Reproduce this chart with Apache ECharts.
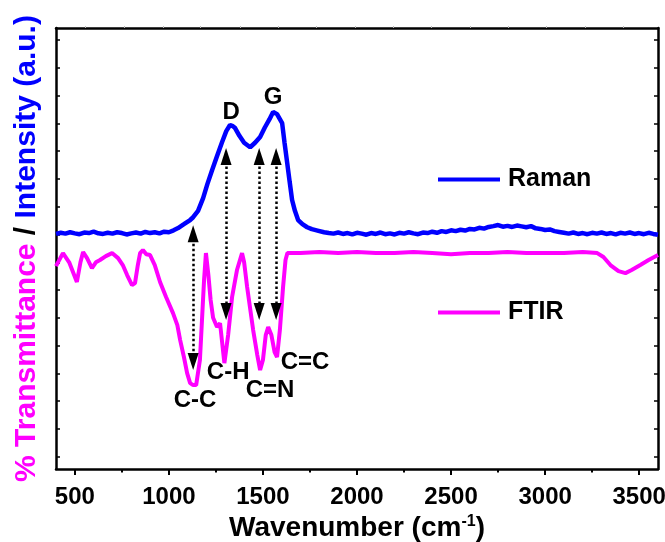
<!DOCTYPE html>
<html>
<head>
<meta charset="utf-8">
<script src="https://cdn.jsdelivr.net/npm/echarts@6/dist/echarts.min.js"></script>
<style>
html,body{margin:0;padding:0;background:#fff;}
#chart{width:665px;height:542px;}
</style>
</head>
<body>
<div id="chart"></div>
<script>
// ---- tick labels ----
const wnTicks = [500, 1000, 1500, 2000, 2500, 3000, 3500];
const wnMinorTicks = [750, 1250, 1750, 2250, 2750, 3250];
const topTicks = [554, 762, 969, 1166, 1379, 1581, 1783, 1990, 2193, 2395, 2602, 2804, 3006, 3214, 3416];
const yTicks = [0, 1, 2, 3, 4, 5, 6, 7, 8, 9, 10, 11, 12, 13, 14, 15];

// ---- Raman (a.u.) ----
const ramanWn = [
  400, 425, 450, 475, 500, 525, 550, 575, 600, 625, 650, 675, 700, 725, 750, 775, 800, 825, 850, 875, 900, 925, 950, 975, 1000, 1025,
  1049, 1080, 1113, 1129, 1155, 1182, 1205, 1230, 1258, 1283, 1305, 1325, 1340, 1352, 1375, 1400, 1432, 1458, 1485, 1510, 1535, 1554,
  1575, 1602, 1615, 1629, 1642, 1655, 1670, 1687, 1710, 1735, 1760, 1790, 1825, 1850,
  1875, 1900, 1925, 1950, 1975, 2000, 2025, 2050, 2075, 2100, 2125, 2150, 2175, 2200, 2225, 2250, 2275, 2300, 2325, 2350,
  2375, 2400, 2425, 2450, 2475, 2500, 2525, 2550, 2575, 2600, 2625, 2650, 2675, 2700, 2725, 2750, 2775, 2800, 2825, 2850,
  2875, 2900, 2925, 2950, 2975, 3000, 3025, 3050, 3075, 3100, 3125, 3150, 3175, 3200, 3225, 3250, 3275, 3300, 3325, 3350,
  3375, 3400, 3425, 3450, 3475, 3500, 3525, 3550, 3575, 3600
];
const ramanI = [
  8.02, 8.06, 8.03, 8.08, 8.04, 8.01, 8.07, 8.05, 8.10, 8.04, 8.02, 8.06, 8.03, 8.08, 8.05, 8.00, 8.04, 8.07, 8.03, 8.09, 8.05, 8.08, 8.04, 8.10, 8.08, 8.15,
  8.23, 8.37, 8.52, 8.62, 8.85, 9.31, 9.82, 10.32, 10.86, 11.33, 11.72, 11.94, 11.90, 11.83, 11.55, 11.30, 11.14, 11.30, 11.51, 11.85, 12.15, 12.41,
  12.33, 12.01, 11.29, 10.57, 9.90, 9.24, 8.85, 8.52, 8.37, 8.26, 8.19, 8.14, 8.08, 8.05,
  8.03, 8.07, 8.02, 8.05, 8.00, 8.06, 8.03, 7.99, 8.05, 8.02, 8.07, 8.01, 8.04, 8.00, 8.06, 8.03, 8.08, 8.04, 8.01, 8.07,
  8.05, 8.10, 8.06, 8.12, 8.09, 8.15, 8.12, 8.17, 8.14, 8.20, 8.18, 8.24, 8.21, 8.27, 8.30, 8.34, 8.28, 8.31, 8.27, 8.32,
  8.29, 8.26, 8.30, 8.22, 8.20, 8.16, 8.18, 8.12, 8.09, 8.06, 8.03, 8.07, 8.02, 8.05, 8.01, 8.06, 8.03, 8.07, 8.02, 8.05,
  8.00, 8.06, 8.03, 8.07, 8.02, 8.05, 8.01, 8.06, 8.02, 7.99
];

// ---- FTIR (% transmittance, a.u.) ----
const ftirWn = [
  400, 405, 437, 470, 511, 530, 544, 565, 591, 612, 634, 665, 698, 730, 755, 778, 804, 820, 835, 847,
  862, 880, 900, 925, 953, 985, 1022, 1045, 1060, 1080, 1097, 1113, 1129, 1145, 1155, 1165, 1176, 1187, 1197, 1210,
  1222, 1235, 1256, 1272, 1295, 1305, 1315, 1336, 1362, 1389, 1400, 1416, 1448, 1470, 1485, 1500, 1515, 1528, 1545, 1562,
  1575, 1590, 1607, 1620, 1630, 1700, 1800, 1900, 2000, 2100, 2200, 2300, 2400, 2500, 2600, 2700, 2800, 2900, 3000, 3100,
  3200, 3277, 3310, 3347, 3390, 3427, 3460, 3506, 3550, 3600
];
const ftirT = [
  6.86, 6.86, 7.33, 7.00, 6.29, 7.00, 7.37, 7.15, 6.79, 7.00, 7.08, 7.22, 7.33, 7.15, 6.90, 6.54, 6.18, 6.25, 6.90, 7.33,
  7.44, 7.29, 7.26, 6.90, 6.29, 5.75, 5.17, 4.74, 4.20, 3.59, 3.01, 2.65, 2.58, 2.58, 2.65, 3.48, 4.92, 6.36, 7.33, 6.54,
  5.64, 5.00, 4.67, 4.81, 3.37, 3.40, 4.38, 5.75, 6.72, 7.33, 7.00, 6.11, 4.56, 3.66, 3.12, 3.48, 4.38, 4.67, 4.38, 3.77,
  3.59, 4.56, 6.11, 7.08, 7.33, 7.33, 7.37, 7.33, 7.37, 7.33, 7.33, 7.37, 7.33, 7.29, 7.33, 7.33, 7.37, 7.33, 7.33, 7.33,
  7.37, 7.33, 7.19, 6.90, 6.68, 6.61, 6.72, 6.90, 7.08, 7.26
];

// ---- double-headed arrows (wavenumber, upper end, lower end) ----
const arrowWn = [1129, 1304, 1480, 1570];
const arrowTop = [8.03, 10.81, 10.81, 10.81];
const arrowBottom = [3.43, 5.23, 5.23, 5.23];

// ---- band labels ----
const bandText = ['D', 'G', 'C-C', 'C-H', 'C=N', 'C=C'];
const bandWn = [1331, 1554, 1139, 1315, 1538, 1724];
const bandY = [12.41, 12.95, 2.04, 3.05, 2.40, 3.41];

const FONT = "'Liberation Sans', Arial, Helvetica, sans-serif";
const X_MIN = 400, X_MAX = 3600, Y_MIN = -0.44, Y_MAX = 15.43;

const zip = (a, b) => a.map((v, i) => [v, b[i]]);
const frameLine = { show: true, onZero: false, lineStyle: { color: '#000', width: 2.5 } };

const chart = echarts.init(document.getElementById('chart'), null, { renderer: 'canvas' });
const option = {
  animation: false,
  backgroundColor: '#fff',
  grid: { left: 56, top: 28, right: 7, bottom: 73, containLabel: false, outerBoundsMode: 'none' },
  legend: [
    {
      data: ['Raman'], left: 433, top: 162, icon: 'rect', itemWidth: 62, itemHeight: 4,
      selectedMode: false,
      textStyle: { fontSize: 25, fontWeight: 'bold', color: '#000', fontFamily: FONT, padding: [0, 0, 0, 3] }
    },
    {
      data: ['FTIR'], left: 433, top: 295, icon: 'rect', itemWidth: 62, itemHeight: 4,
      selectedMode: false,
      textStyle: { fontSize: 25, fontWeight: 'bold', color: '#000', fontFamily: FONT, padding: [0, 0, 0, 3] }
    }
  ],
  xAxis: [
    {
      type: 'value', position: 'bottom', min: X_MIN, max: X_MAX,
      axisLine: frameLine,
      axisTick: { show: true, inside: false, length: 6, customValues: wnTicks, lineStyle: { color: '#000', width: 2 } },
      axisLabel: {
        customValues: wnTicks, formatter: v => String(v),
        fontSize: 24, fontWeight: 'bold', color: '#000', fontFamily: FONT, margin: 16
      },
      splitLine: { show: false },
      name: '{a|Wavenumber (cm}{s|-1}{a|)}',
      nameLocation: 'middle', nameGap: 45,
      nameTextStyle: {
        fontSize: 28, fontWeight: 'bold', color: '#000', fontFamily: FONT,
        rich: {
          a: { fontSize: 28, fontWeight: 'bold', color: '#000', fontFamily: FONT },
          s: { fontSize: 16, fontWeight: 'bold', color: '#000', fontFamily: FONT, verticalAlign: 'top' }
        }
      }
    },
    {
      type: 'value', position: 'bottom', min: X_MIN, max: X_MAX,
      axisLine: { show: false, onZero: false },
      axisTick: { show: true, inside: false, length: 3.5, customValues: wnMinorTicks, lineStyle: { color: '#000', width: 2 } },
      axisLabel: { show: false },
      splitLine: { show: false }
    },
    {
      type: 'value', position: 'top', min: X_MIN, max: X_MAX,
      axisLine: frameLine,
      axisTick: { show: true, inside: false, length: 2, customValues: topTicks, lineStyle: { color: '#bbb', width: 1 } },
      axisLabel: { show: false },
      splitLine: { show: false }
    }
  ],
  yAxis: [
    {
      type: 'value', position: 'left', min: Y_MIN, max: Y_MAX,
      axisLine: frameLine,
      axisTick: { show: true, inside: true, length: 4, customValues: yTicks, lineStyle: { color: '#000', width: 1.5 } },
      axisLabel: { show: false },
      splitLine: { show: false },
      name: '{m|% Transmittance}{k| / }{b|Intensity (a.u.)}',
      nameLocation: 'middle', nameGap: 14,
      nameTextStyle: {
        fontSize: 30, fontWeight: 'bold', fontFamily: FONT,
        rich: {
          m: { fontSize: 30, fontWeight: 'bold', color: '#FF00FF', fontFamily: FONT },
          k: { fontSize: 30, fontWeight: 'bold', color: '#000', fontFamily: FONT },
          b: { fontSize: 30, fontWeight: 'bold', color: '#0000FF', fontFamily: FONT }
        }
      }
    },
    {
      type: 'value', position: 'right', min: Y_MIN, max: Y_MAX,
      axisLine: frameLine,
      axisTick: { show: true, inside: true, length: 4, customValues: yTicks, lineStyle: { color: '#000', width: 1.5 } },
      axisLabel: { show: false },
      splitLine: { show: false }
    }
  ],
  series: [
    {
      name: 'Raman', type: 'line', xAxisIndex: 0, yAxisIndex: 0,
      data: zip(ramanWn, ramanI), showSymbol: false, symbol: 'none',
      lineStyle: { color: '#0000FF', width: 4.5 }, itemStyle: { color: '#0000FF' }, z: 2
    },
    {
      name: 'FTIR', type: 'line', xAxisIndex: 0, yAxisIndex: 0,
      data: zip(ftirWn, ftirT), showSymbol: false, symbol: 'none',
      lineStyle: { color: '#FF00FF', width: 4 }, itemStyle: { color: '#FF00FF' }, z: 3,
      markLine: {
        silent: true, animation: false,
        symbol: ['triangle', 'triangle'], symbolSize: [11, 17],
        label: { show: false },
        lineStyle: { color: '#000', width: 2.5, type: [2.5, 2.5], opacity: 1 },
        itemStyle: { color: '#000' },
        emphasis: { disabled: true },
        data: arrowWn.map((w, i) => [
          { coord: [w, arrowTop[i]], lineStyle: { color: '#000' }, itemStyle: { color: '#000' } },
          { coord: [w, arrowBottom[i]] }
        ])
      }
    },
    {
      name: 'bands', type: 'scatter', xAxisIndex: 0, yAxisIndex: 0,
      data: bandWn.map((w, i) => [w, bandY[i], bandText[i]]),
      symbolSize: 1, itemStyle: { color: 'rgba(0,0,0,0)', opacity: 1 }, silent: true, z: 5,
      label: {
        show: true, position: 'inside', formatter: p => p.value[2], opacity: 1,
        fontSize: 24, fontWeight: 'bold', color: '#000', fontFamily: FONT
      }
    }
  ]
};
chart.setOption(option);
</script>
</body>
</html>
